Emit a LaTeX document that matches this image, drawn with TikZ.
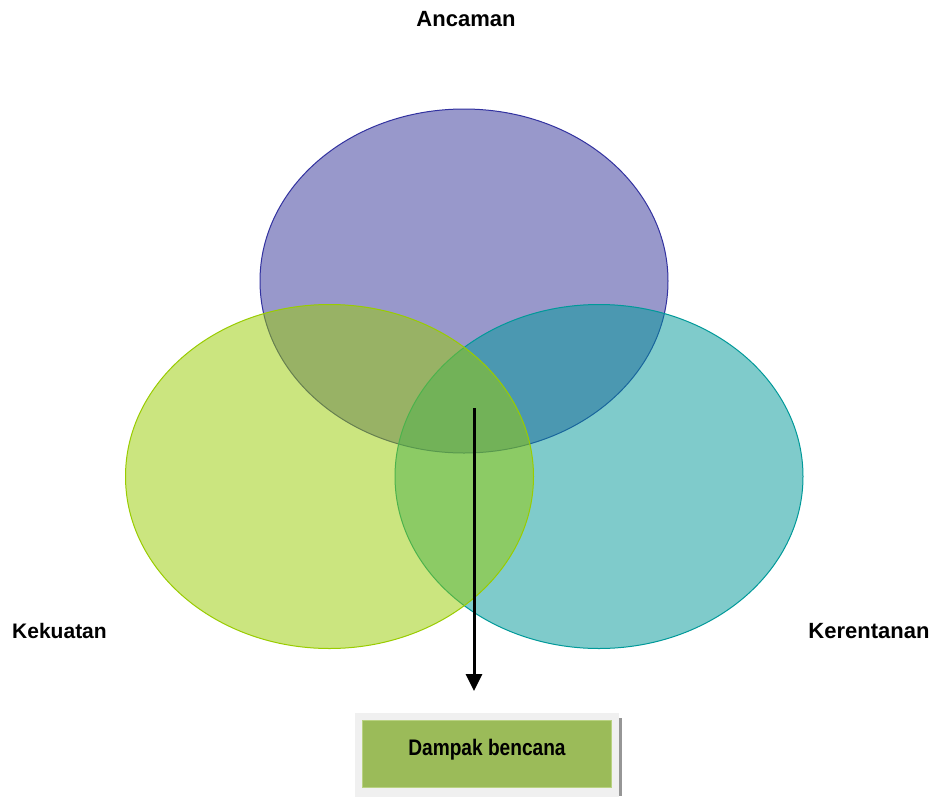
\documentclass[tikz,border=0pt]{standalone}
\usepackage{fontspec}
\setmainfont{Liberation Sans}
\newfontfamily\narrowfont[FakeStretch=0.85]{Liberation Sans}
\usetikzlibrary{shapes.geometric,arrows.meta}
\definecolor{topfill}{RGB}{51,51,153}
\definecolor{topline}{RGB}{50,50,160}
\definecolor{leftfill}{RGB}{153,204,0}
\definecolor{rightfill}{RGB}{0,153,153}
\definecolor{boxgreen}{RGB}{155,187,89}
\definecolor{boxedge}{RGB}{185,210,130}
\definecolor{boxgray}{RGB}{240,240,240}
\definecolor{shadowgray}{RGB}{150,150,150}
\tikzset{
  venn/.style={ellipse, minimum width=408pt, minimum height=344pt, inner sep=0pt, fill opacity=0.5, line width=1pt},
  lbl/.style={font=\fontsize{22}{26}\selectfont\bfseries, text=black, inner sep=0pt},
  arrowline/.style={line width=3pt, -{Triangle[width=16pt,length=17pt]}},
}
\begin{document}
\begin{tikzpicture}[x=1pt,y=-1pt]
\fill[white] (0,0) rectangle (932,796);
\useasboundingbox (0,0) rectangle (932,796);
% ellipses (order: top, right, left)
\node[venn, draw=topline, fill=topfill] (anc) at (464,281) {};
\node[venn, draw=rightfill, fill=rightfill] (ker) at (599,476.5) {};
\node[venn, draw=leftfill, fill=leftfill] (kek) at (329.5,476.5) {};
% labels
\node[lbl] (lanc) at (466,19) {Ancaman};
\node[lbl, font=\fontsize{21}{25}\selectfont\bfseries] (lkek) at (59.5,631) {Kekuatan};
\node[lbl] (lker) at (869,631) {Kerentanan};
% box
\fill[shadowgray] (618.5,718) rectangle (621.5,796);
\node[fill=boxgray, minimum width=264pt, minimum height=84pt, inner sep=0pt, anchor=north west] (outer) at (355,713) {};
\node[fill=boxgreen, draw=boxedge, line width=0.6pt, minimum width=249pt, minimum height=67pt, inner sep=0pt,
      font=\narrowfont\fontsize{22.5}{26}\selectfont\bfseries] (dampak) at (487,754) {\raisebox{4pt}[\height][\depth]{Dampak bencana}};
% arrow
\coordinate (arrS) at (474,408);
\draw[arrowline, shorten >=22pt] (arrS) -- (arrS |- outer.north);
\end{tikzpicture}
\end{document}
